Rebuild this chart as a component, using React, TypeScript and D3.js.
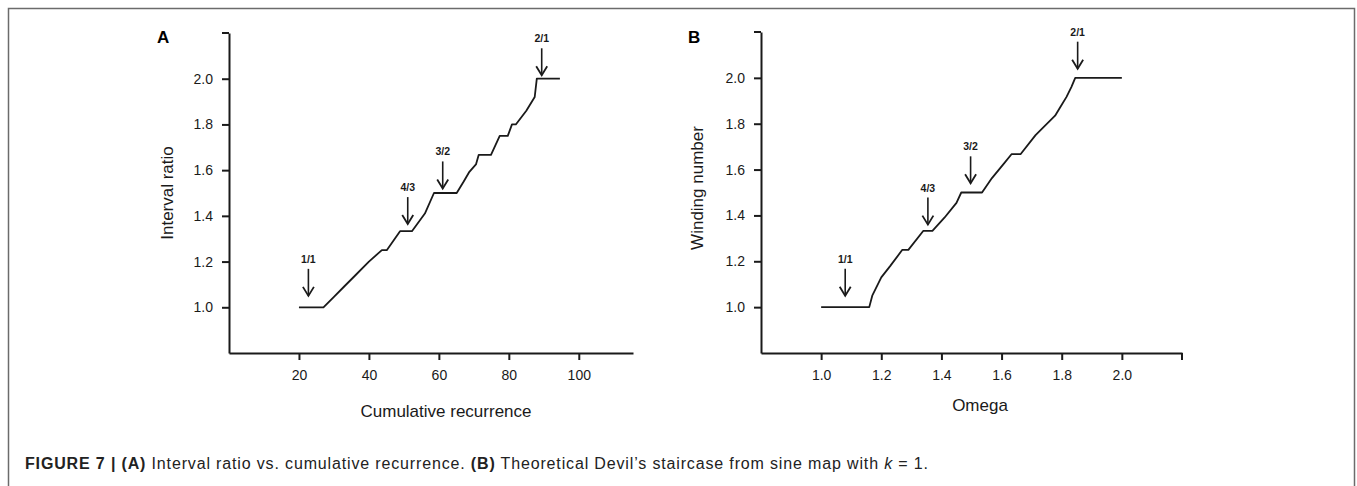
import { useEffect, useRef } from 'react';
import * as d3 from 'd3';

// Panel A: interval ratio vs cumulative recurrence
const recurrence = [20, 27, 30, 33, 36, 40, 43.7, 45.1, 48.9, 52.3, 56, 58.6, 65.1, 67.1, 68.6, 70.6, 71.4, 74.9, 77.4, 79.7, 80.9, 82, 85, 87.4, 88, 94.6];
const intervalRatio = [1.0, 1.0, 1.046, 1.092, 1.138, 1.2, 1.25, 1.25, 1.333, 1.333, 1.41, 1.5, 1.5, 1.55, 1.59, 1.625, 1.667, 1.667, 1.75, 1.75, 1.8, 1.8, 1.86, 1.92, 2.0, 2.0];

// Panel B: theoretical Devil's staircase
const omega = [1.0, 1.16, 1.17, 1.2, 1.23, 1.27, 1.29, 1.34, 1.37, 1.41, 1.45, 1.466, 1.535, 1.568, 1.607, 1.633, 1.663, 1.713, 1.778, 1.796, 1.816, 1.832, 1.845, 2.0];
const winding = [1.0, 1.0, 1.05, 1.13, 1.18, 1.25, 1.25, 1.333, 1.333, 1.39, 1.455, 1.5, 1.5, 1.563, 1.625, 1.667, 1.667, 1.75, 1.835, 1.874, 1.917, 1.96, 2.0, 2.0];

// arrow annotations: label, x value, value at arrow tip
const arrowLabels = ['1/1', '4/3', '3/2', '2/1'];
const arrowXA = [22.7, 51.1, 61.1, 89.4];
const arrowTipA = [1.05, 1.364, 1.52, 2.015];
const arrowXB = [1.08, 1.355, 1.497, 1.853];
const arrowTipB = [1.05, 1.36, 1.54, 2.04];

const yTicks = [1.0, 1.2, 1.4, 1.6, 1.8, 2.0];
const xTicksA = [20, 40, 60, 80, 100];
const xTicksB = [1.0, 1.2, 1.4, 1.6, 1.8, 2.0];

const FONT = 'Arial, "Liberation Sans", Helvetica, sans-serif';
const INK = '#1a1a1a';

export default function App() {
  const svgRef = useRef<SVGSVGElement>(null);

  useEffect(() => {
    if (!svgRef.current) return;
    const svg = d3.select(svgRef.current);
    svg.selectAll('*').remove();

    // figure frame
    svg
      .append('rect')
      .attr('x', 8.5)
      .attr('y', 8.5)
      .attr('width', 1346)
      .attr('height', 500)
      .attr('fill', 'none')
      .attr('stroke', '#6b6b6b')
      .attr('stroke-width', 1.5);

    const drawPanel = (opts: {
      xs: number[];
      ys: number[];
      x: d3.ScaleLinear<number, number>;
      y: d3.ScaleLinear<number, number>;
      xTicks: number[];
      xFormat: (d: number) => string;
      xEndTick: boolean;
      arrowX: number[];
      arrowTip: number[];
      letter: string;
      letterX: number;
      xLabel: string;
      xLabelX: number;
      xLabelY: number;
      yLabel: string;
      yLabelX: number;
      yLabelY: number;
    }) => {
      const { x, y } = opts;
      const g = svg.append('g');

      const yAxis = g
        .append('g')
        .attr('transform', `translate(${x.range()[0]},0)`)
        .call(
          d3
            .axisLeft(y)
            .tickValues(yTicks)
            .tickFormat(d3.format('.1f'))
            .tickSize(7)
            .tickSizeOuter(0)
            .tickPadding(9)
        );
      // outer tick at top of y axis
      yAxis
        .append('line')
        .attr('x1', 0)
        .attr('x2', -7)
        .attr('y1', y.range()[1])
        .attr('y2', y.range()[1]);

      const xAxis = g
        .append('g')
        .attr('transform', `translate(0,${y.range()[0]})`)
        .call(
          d3
            .axisBottom(x)
            .tickValues(opts.xTicks)
            .tickFormat(opts.xFormat as any)
            .tickSize(7)
            .tickSizeOuter(0)
            .tickPadding(10)
        );
      if (opts.xEndTick) {
        xAxis
          .append('line')
          .attr('x1', x.range()[1])
          .attr('x2', x.range()[1])
          .attr('y1', 0)
          .attr('y2', 7);
      }

      [yAxis, xAxis].forEach(ax => {
        ax.selectAll('path, line').attr('stroke', INK).attr('stroke-width', 2);
        ax.selectAll('text')
          .attr('fill', INK)
          .attr('font-size', 14)
          .attr('font-family', FONT);
      });

      // staircase line
      const line = d3
        .line<number>()
        .x(d => x(d))
        .y((_, i) => y(opts.ys[i]));
      g.append('path')
        .datum(opts.xs)
        .attr('d', line)
        .attr('fill', 'none')
        .attr('stroke', INK)
        .attr('stroke-width', 1.8)
        .attr('stroke-linejoin', 'round');

      // arrows
      arrowLabels.forEach((lab, i) => {
        const ax = x(opts.arrowX[i]);
        const tip = y(opts.arrowTip[i]);
        const top = tip - 27;
        g.append('line')
          .attr('x1', ax)
          .attr('x2', ax)
          .attr('y1', top)
          .attr('y2', tip)
          .attr('stroke', INK)
          .attr('stroke-width', 1.6);
        g.append('path')
          .attr('d', `M${ax - 5.5},${tip - 9} L${ax},${tip} L${ax + 5.5},${tip - 9}`)
          .attr('fill', 'none')
          .attr('stroke', INK)
          .attr('stroke-width', 1.8);
        g.append('text')
          .attr('x', ax)
          .attr('y', top - 6)
          .attr('text-anchor', 'middle')
          .attr('font-family', FONT)
          .attr('font-weight', 'bold')
          .attr('font-size', 10.5)
          .attr('fill', INK)
          .text(lab);
      });

      // panel letter
      g.append('text')
        .attr('x', opts.letterX)
        .attr('y', 43)
        .attr('font-family', FONT)
        .attr('font-weight', 'bold')
        .attr('font-size', 17)
        .attr('fill', '#000')
        .text(opts.letter);

      // axis titles
      g.append('text')
        .attr('x', opts.xLabelX)
        .attr('y', opts.xLabelY)
        .attr('text-anchor', 'middle')
        .attr('font-family', FONT)
        .attr('font-size', 17)
        .attr('fill', INK)
        .text(opts.xLabel);
      g.append('text')
        .attr('transform', `translate(${opts.yLabelX},${opts.yLabelY}) rotate(-90)`)
        .attr('text-anchor', 'middle')
        .attr('font-family', FONT)
        .attr('font-size', 17)
        .attr('fill', INK)
        .text(opts.yLabel);
    };

    drawPanel({
      xs: recurrence,
      ys: intervalRatio,
      x: d3.scaleLinear().domain([0, 115.5]).range([229, 633]),
      y: d3.scaleLinear().domain([0.8, 2.2]).range([353, 33]),
      xTicks: xTicksA,
      xFormat: d3.format('d'),
      xEndTick: false,
      arrowX: arrowXA,
      arrowTip: arrowTipA,
      letter: 'A',
      letterX: 157,
      xLabel: 'Cumulative recurrence',
      xLabelX: 446,
      xLabelY: 417,
      yLabel: 'Interval ratio',
      yLabelX: 173,
      yLabelY: 193,
    });

    drawPanel({
      xs: omega,
      ys: winding,
      x: d3.scaleLinear().domain([0.8, 2.2]).range([761, 1182]),
      y: d3.scaleLinear().domain([0.8, 2.2]).range([353, 32]),
      xTicks: xTicksB,
      xFormat: d3.format('.1f'),
      xEndTick: true,
      arrowX: arrowXB,
      arrowTip: arrowTipB,
      letter: 'B',
      letterX: 688,
      xLabel: 'Omega',
      xLabelX: 980,
      xLabelY: 411,
      yLabel: 'Winding number',
      yLabelX: 703,
      yLabelY: 188,
    });

    // caption
    const cap = svg
      .append('text')
      .attr('x', 25)
      .attr('y', 469)
      .attr('font-family', FONT)
      .attr('font-size', 16)
      .attr('textLength', 903)
      .attr('lengthAdjust', 'spacing')
      .attr('fill', '#222');
    cap.append('tspan').attr('font-weight', 'bold').text('FIGURE 7 | (A)');
    cap.append('tspan').text(' Interval ratio vs. cumulative recurrence. ');
    cap.append('tspan').attr('font-weight', 'bold').text('(B)');
    cap.append('tspan').text(' Theoretical Devil\u2019s staircase from sine map with ');
    cap.append('tspan').attr('font-style', 'italic').text('k');
    cap.append('tspan').text(' = 1.');
  }, []);

  return (
    <svg
      ref={svgRef}
      width={1357}
      height={486}
      style={{ position: 'absolute', left: 0, top: 0, background: '#fff' }}
    />
  );
}
